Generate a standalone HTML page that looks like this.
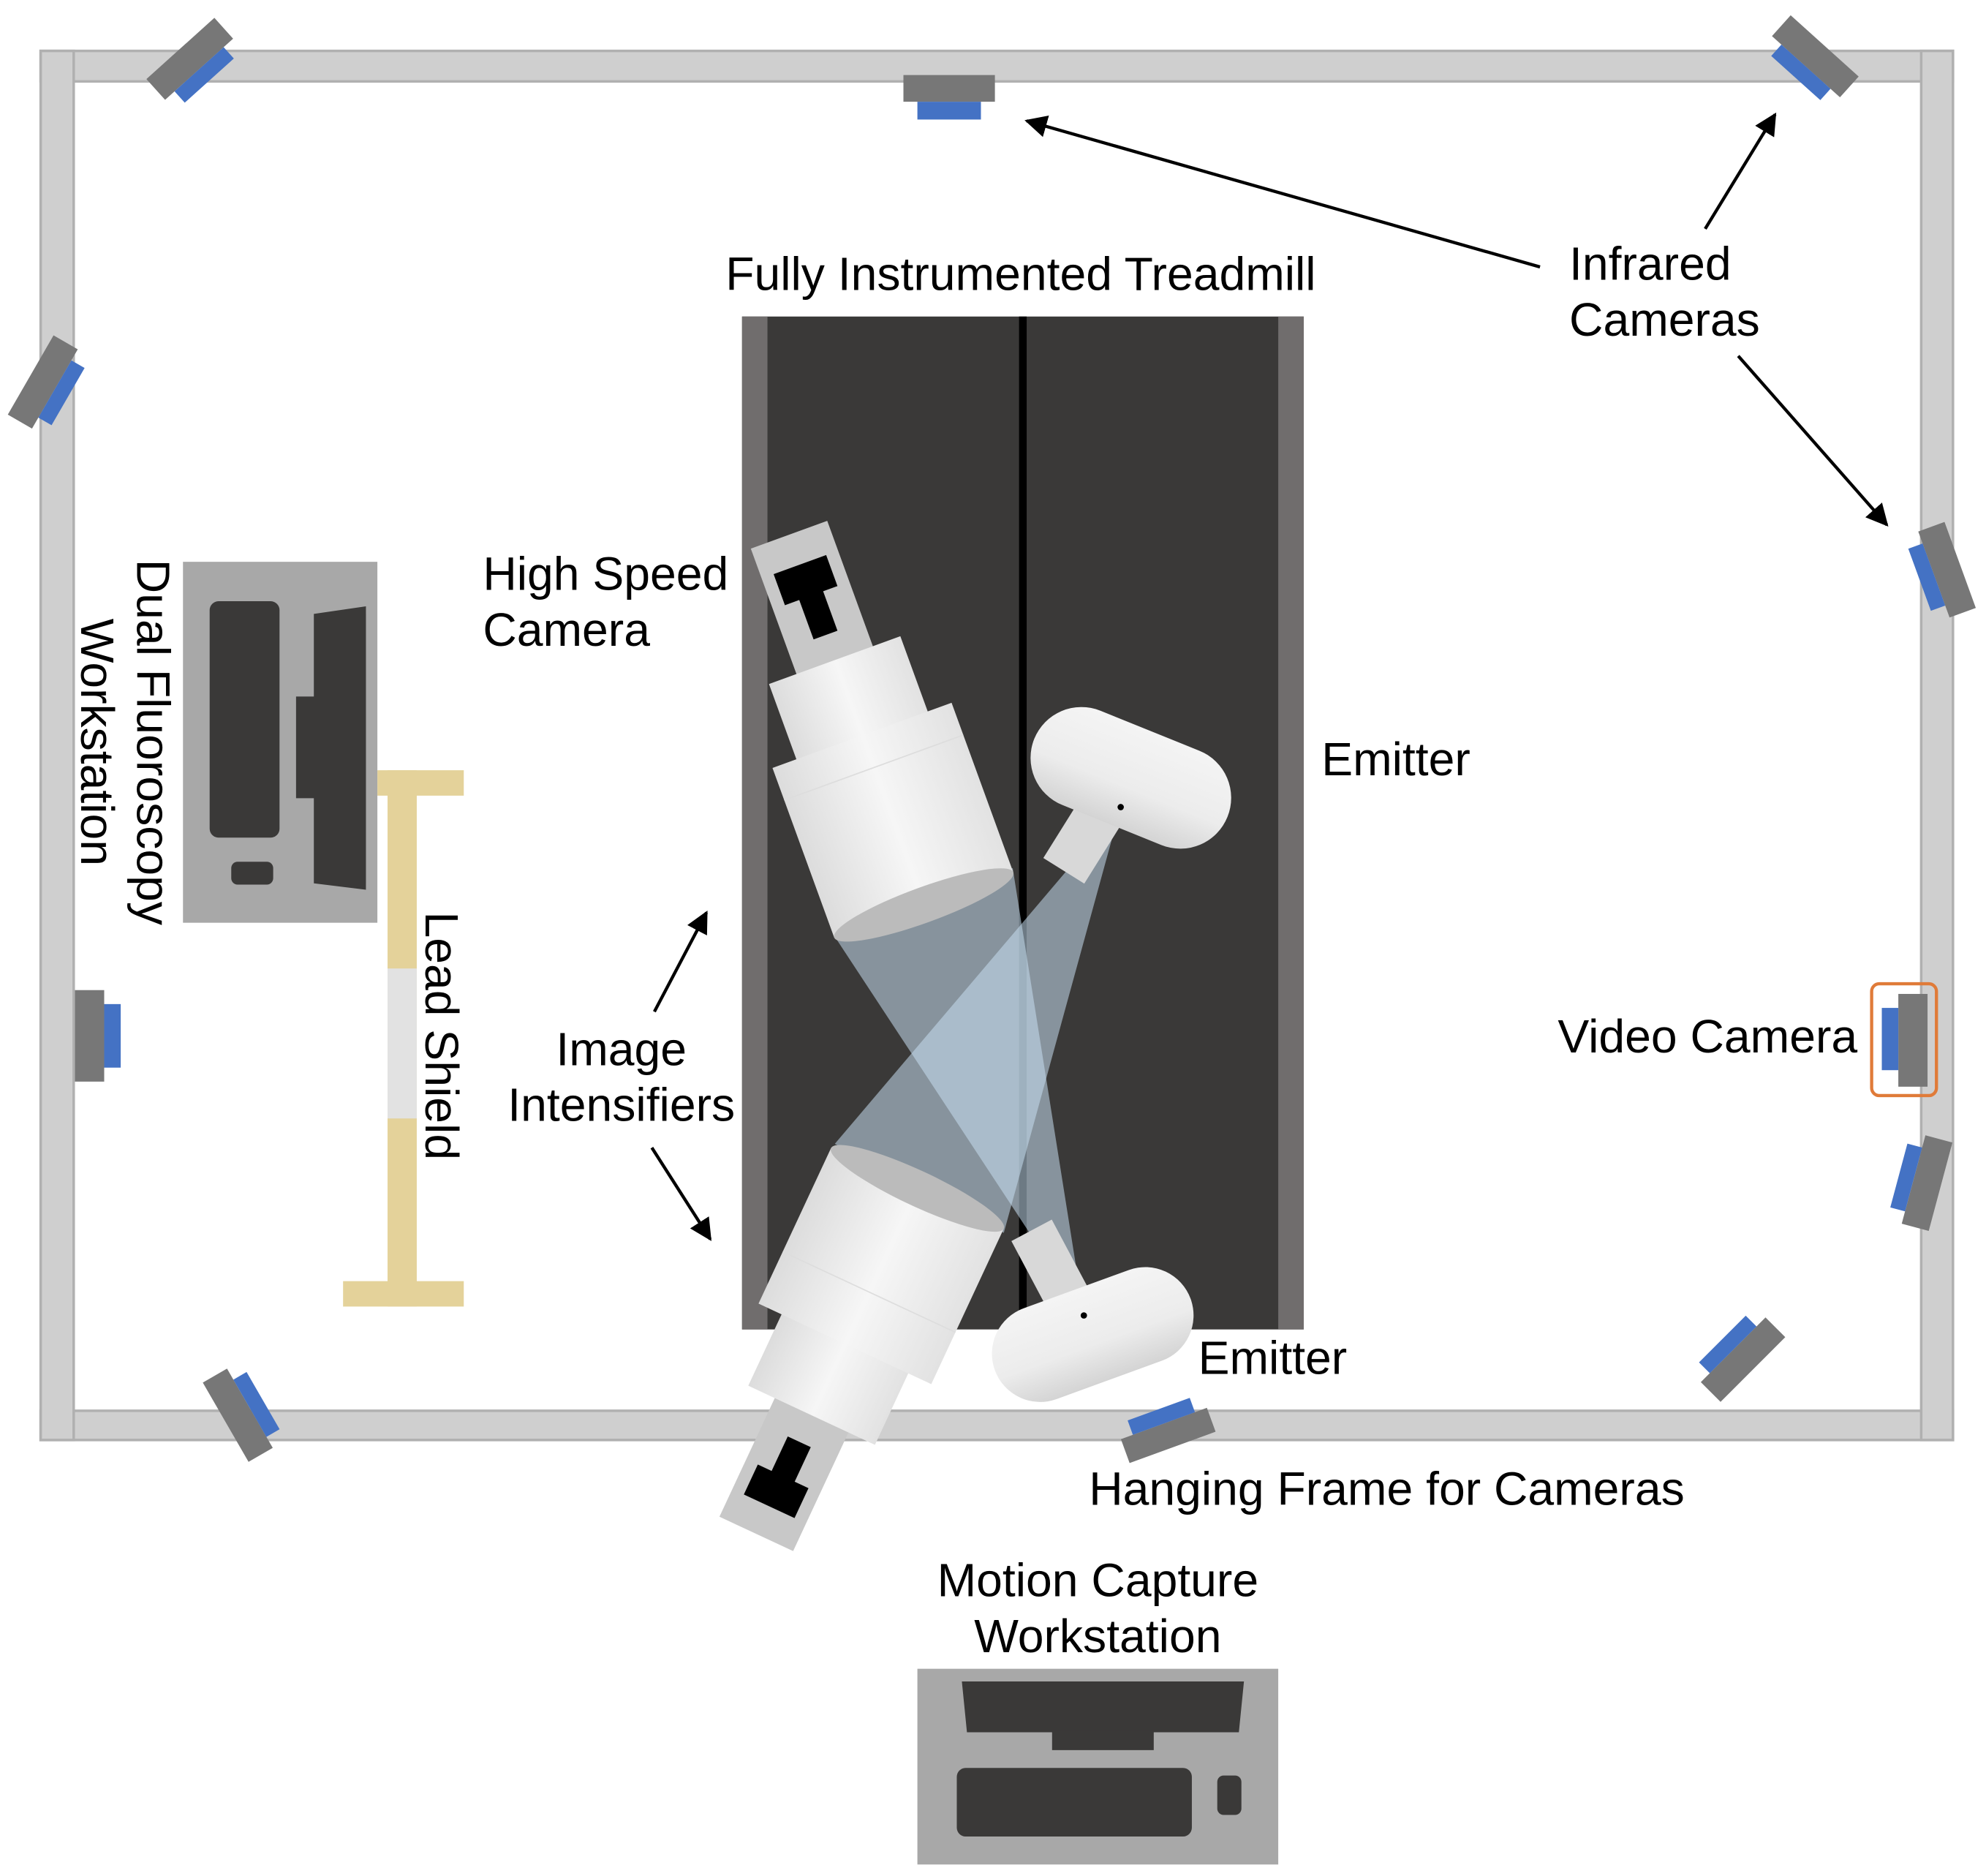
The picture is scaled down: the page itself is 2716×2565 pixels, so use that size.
<!DOCTYPE html>
<html><head><meta charset="utf-8"><style>
html,body{margin:0;padding:0;background:#fff;}
svg{display:block;}
text{font-family:"Liberation Sans",Arial,sans-serif;font-size:37px;fill:#000;}
</style></head><body>
<svg width="2716" height="2565" viewBox="0 0 1563 1476" xmlns="http://www.w3.org/2000/svg">
<defs>
<marker id="ah" viewBox="0 0 10 10" refX="9" refY="5" markerWidth="7" markerHeight="7" orient="auto"><path d="M0,0 L10,5 L0,10 z" fill="#000"/></marker>
<linearGradient id="cyl" x1="0" x2="1" y1="0" y2="0"><stop offset="0" stop-color="#dcdcdc"/><stop offset="0.5" stop-color="#f6f6f6"/><stop offset="1" stop-color="#e2e2e2"/></linearGradient>
<linearGradient id="caps" x1="0" x2="0" y1="0" y2="1"><stop offset="0" stop-color="#f4f4f4"/><stop offset="0.6" stop-color="#ececec"/><stop offset="1" stop-color="#d4d4d4"/></linearGradient>
</defs>
<g fill="#cfcfcf" stroke="#b0b0b0" stroke-width="2">
<rect x="32" y="40" width="1505" height="24"/>
<rect x="32" y="1110" width="1505" height="23"/>
<rect x="32" y="40" width="26" height="1093"/>
<rect x="1512" y="40" width="25" height="1093"/>
</g>
<rect x="584" y="249" width="442" height="797" fill="#3a3938"/>
<rect x="584" y="249" width="20" height="797" fill="#706d6d"/>
<rect x="1006" y="249" width="20" height="797" fill="#706d6d"/>
<rect x="802" y="249" width="6" height="797" fill="#000"/>
<polygon points="882,635 657,900 790,970" fill="#c7def0" opacity="0.55"/>
<polygon points="853,1035 657,737 797,683" fill="#c7def0" opacity="0.55"/>
<g transform="translate(727,712) rotate(-20)">
<rect x="-32" y="-310" width="64" height="110" fill="#c8c8c8"/>
<rect x="-22" y="-285" width="44" height="26" fill="#000"/>
<rect x="-10" y="-262" width="20" height="36" fill="#000"/>
<rect x="-55" y="-205" width="110" height="65" fill="url(#cyl)"/>
<rect x="-75" y="-142" width="150" height="142" fill="url(#cyl)"/>
<line x1="-75" y1="-115" x2="75" y2="-115" stroke="#ddd"/>
<ellipse cx="0" cy="0" rx="75" ry="14" fill="#bbb"/>
</g>
<g transform="translate(722,935) rotate(25)">
<rect x="-32" y="195" width="64" height="105" fill="#c8c8c8"/>
<rect x="-22" y="250" width="44" height="26" fill="#000"/>
<rect x="-10" y="220" width="20" height="36" fill="#000"/>
<rect x="-55" y="132" width="110" height="65" fill="url(#cyl)"/>
<rect x="-75" y="0" width="150" height="135" fill="url(#cyl)"/>
<line x1="-75" y1="90" x2="75" y2="90" stroke="#ddd"/>
<ellipse cx="0" cy="0" rx="75" ry="14" fill="#bbb"/>
</g>
<g transform="translate(890,612) rotate(22)">
<rect x="-25" y="30" width="38" height="60" fill="#d8d8d8" transform="rotate(10)"/>
<rect x="-82" y="-40" width="164" height="80" rx="40" fill="url(#caps)"/>
</g>
<circle cx="882" cy="635" r="2.5" fill="#000"/>
<g transform="translate(860,1050) rotate(-20)">
<rect x="-22" y="-95" width="36" height="62" fill="#d8d8d8" transform="rotate(-8)"/>
<rect x="-82" y="-38" width="164" height="76" rx="38" fill="url(#caps)"/>
</g>
<circle cx="853" cy="1035" r="2.5" fill="#000"/>
<rect x="711" y="59" width="72" height="21" fill="#777"/>
<rect x="722" y="80" width="50" height="14" fill="#4472c4"/>
<g transform="translate(150,47) rotate(-42)"><rect x="-36" y="-12" width="72" height="22" fill="#777"/><rect x="-26" y="10" width="52" height="12" fill="#4472c4"/></g>
<g transform="translate(1428,45) rotate(42)"><rect x="-36" y="-12" width="72" height="22" fill="#777"/><rect x="-26" y="10" width="52" height="12" fill="#4472c4"/></g>
<g transform="translate(38,303) rotate(-60)"><rect x="-36" y="-16" width="72" height="22" fill="#777"/><rect x="-26" y="6" width="52" height="12" fill="#4472c4"/></g>
<rect x="59" y="779" width="23" height="72" fill="#777"/><rect x="82" y="790" width="13" height="50" fill="#4472c4"/>
<g transform="translate(188,1113) rotate(-30)"><rect x="-12" y="-36" width="22" height="72" fill="#777"/><rect x="10" y="-26" width="12" height="52" fill="#4472c4"/></g>
<g transform="translate(916,1120) rotate(-20)"><rect x="-36" y="0" width="72" height="20" fill="#777"/><rect x="-26" y="-12" width="52" height="12" fill="#4472c4"/></g>
<g transform="translate(1364,1062) rotate(-45)"><rect x="-36" y="0" width="72" height="22" fill="#777"/><rect x="-26" y="-12" width="52" height="12" fill="#4472c4"/></g>
<g transform="translate(1522,452) rotate(-20)"><rect x="0" y="-36" width="22" height="72" fill="#777"/><rect x="-12" y="-26" width="12" height="52" fill="#4472c4"/></g>
<g transform="translate(1506,928) rotate(15)"><rect x="0" y="-36" width="22" height="72" fill="#777"/><rect x="-12" y="-26" width="12" height="52" fill="#4472c4"/></g>
<rect x="1473" y="774" width="51" height="88" rx="6" fill="none" stroke="#e07b39" stroke-width="2.5"/>
<rect x="1494" y="782" width="23" height="73" fill="#777"/><rect x="1481" y="793" width="13" height="49" fill="#4472c4"/>
<rect x="144" y="442" width="153" height="284" fill="#a8a8a8"/>
<rect x="165" y="473" width="55" height="186" rx="7" fill="#3a3938"/>
<rect x="182" y="678" width="33" height="18" rx="5" fill="#3a3938"/>
<polygon points="247,483 288,477 288,700 247,695" fill="#3a3938"/>
<rect x="233" y="548" width="16" height="80" fill="#3a3938"/>
<rect x="297" y="606" width="68" height="20" fill="#e4d29a"/>
<rect x="305" y="606" width="23" height="422" fill="#e4d29a"/>
<rect x="305" y="762" width="23" height="118" fill="#e2e2e2"/>
<rect x="270" y="1008" width="95" height="20" fill="#e4d29a"/>
<rect x="722" y="1313" width="284" height="154" fill="#a8a8a8"/>
<polygon points="757,1323 979,1323 975,1363 761,1363" fill="#3a3938"/>
<rect x="828" y="1362" width="80" height="15" fill="#3a3938"/>
<rect x="753" y="1391" width="185" height="54" rx="7" fill="#3a3938"/>
<rect x="958" y="1397" width="19" height="31" rx="5" fill="#3a3938"/>
<g stroke="#000" stroke-width="2.5" fill="none" marker-end="url(#ah)">
<line x1="1212" y1="210" x2="808" y2="95"/>
<line x1="1342" y1="180" x2="1397" y2="90"/>
<line x1="1368" y1="280" x2="1485" y2="413"/>
<line x1="515" y1="796" x2="556" y2="718"/>
<line x1="513" y1="903" x2="559" y2="975"/>
</g>
<text x="571" y="228">Fully Instrumented Treadmill</text>
<text x="1235" y="220">Infrared</text>
<text x="1235" y="264">Cameras</text>
<text x="380" y="464">High Speed</text>
<text x="380" y="508">Camera</text>
<text x="1040" y="610">Emitter</text>
<text x="943" y="1081">Emitter</text>
<text x="489" y="838" text-anchor="middle">Image</text>
<text x="489" y="882" text-anchor="middle">Intensifiers</text>
<text x="1226" y="828">Video Camera</text>
<text x="857" y="1184">Hanging Frame for Cameras</text>
<text x="864" y="1256" text-anchor="middle">Motion Capture</text>
<text x="864" y="1300" text-anchor="middle">Workstation</text>
<text transform="translate(108,584) rotate(90)" text-anchor="middle">Dual Fluoroscopy</text>
<text transform="translate(64,584) rotate(90)" text-anchor="middle">Workstation</text>
<text transform="translate(335,815) rotate(90)" text-anchor="middle">Lead Shield</text>
</svg>
</body></html>
